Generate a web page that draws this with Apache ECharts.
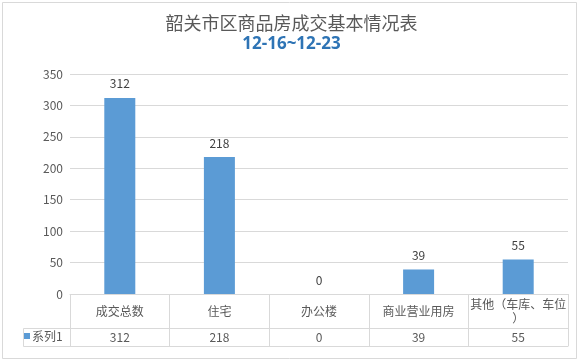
<!DOCTYPE html>
<html>
<head>
<meta charset="utf-8">
<script src="https://cdn.jsdelivr.net/npm/echarts@6/dist/echarts.min.js"></script>
<style>
html,body{margin:0;padding:0;background:#fff;}
#c{width:583px;height:364px;}
</style>
</head>
<body>
<div id="c"></div>
<script>
const titleText = '韶关市区商品房成交基本情况表';
const subTitleText = '12-16~12-23';
const seriesName = '系列1';
const categories = ['成交总数', '住宅', '办公楼', '商业营业用房', '其他（车库、车位）'];
const values = [312, 218, 0, 39, 55];
const yTicks = [0, 50, 100, 150, 200, 250, 300, 350];

const FONT = '"Noto Sans CJK SC", "Noto Sans", sans-serif';
const GRID_LINE = '#D9D9D9';
const TEXT = '#595959';

const chart = echarts.init(document.getElementById('c'), null, {renderer: 'canvas'});
chart.setOption({
  animation: false,
  backgroundColor: '#fff',
  textStyle: {fontFamily: FONT},
  title: {
    text: titleText,
    subtext: subTitleText,
    left: 'center',
    top: 9,
    itemGap: 4,
    textStyle: {fontSize: 18, fontWeight: 'normal', color: TEXT, fontFamily: FONT},
    subtextStyle: {fontSize: 17, fontWeight: 'bold', color: '#2E74B5', fontFamily: '"Open Sans", "Noto Sans", sans-serif'}
  },
  legend: {
    data: [{name: seriesName, icon: 'rect'}],
    left: 24,
    top: 330,
    itemWidth: 6,
    itemHeight: 6,
    itemGap: 2,
    padding: 0,
    textStyle: {fontSize: 12, color: TEXT, fontFamily: FONT, padding: [0, 0, 0, -3]}
  },
  grid: {left: 70, right: 15, top: 74, bottom: 70, containLabel: false},
  xAxis: [
    {
      type: 'category',
      data: categories,
      position: 'bottom',
      axisLine: {show: true, lineStyle: {color: GRID_LINE}},
      axisTick: {show: true, length: 52, lineStyle: {color: GRID_LINE}},
      axisLabel: {
        interval: 0, margin: 17, verticalAlign: 'middle', fontSize: 12, color: TEXT,
        width: 98, overflow: 'break', lineHeight: 14, fontFamily: FONT
      },
      splitLine: {show: false}
    },
    {
      type: 'category',
      data: categories,
      position: 'bottom',
      offset: 34,
      axisLine: {show: true, lineStyle: {color: GRID_LINE}},
      axisTick: {show: false},
      axisLabel: {
        interval: 0, margin: 9, verticalAlign: 'middle', fontSize: 12, color: TEXT, fontFamily: FONT,
        formatter: function (v, i) { return String(values[i]); }
      }
    },
    {
      type: 'category',
      data: categories,
      position: 'bottom',
      offset: 52,
      axisLine: {show: true, lineStyle: {color: GRID_LINE}},
      axisTick: {show: false},
      axisLabel: {show: false}
    }
  ],
  yAxis: {
    type: 'value',
    min: yTicks[0],
    max: yTicks[yTicks.length - 1],
    interval: 50,
    axisLine: {show: false},
    axisTick: {show: false},
    axisLabel: {margin: 7, fontSize: 12, color: TEXT, fontFamily: FONT},
    splitLine: {lineStyle: {color: GRID_LINE}}
  },
  series: [{
    name: seriesName,
    type: 'bar',
    data: values,
    xAxisIndex: 0,
    barWidth: 31,
    itemStyle: {color: '#5B9BD5'},
    label: {show: true, position: 'top', distance: 8, fontSize: 12, color: '#404040', fontFamily: FONT}
  }],
  graphic: [
    {type: 'rect', shape: {x: 2.5, y: 2.5, width: 574, height: 356}, style: {fill: null, stroke: GRID_LINE, lineWidth: 1}, silent: true},
    {type: 'polyline', shape: {points: [[70, 328.5], [23.5, 328.5], [23.5, 346.5], [70, 346.5]]}, style: {fill: null, stroke: GRID_LINE, lineWidth: 1}, silent: true}
  ]
});
</script>
</body>
</html>
